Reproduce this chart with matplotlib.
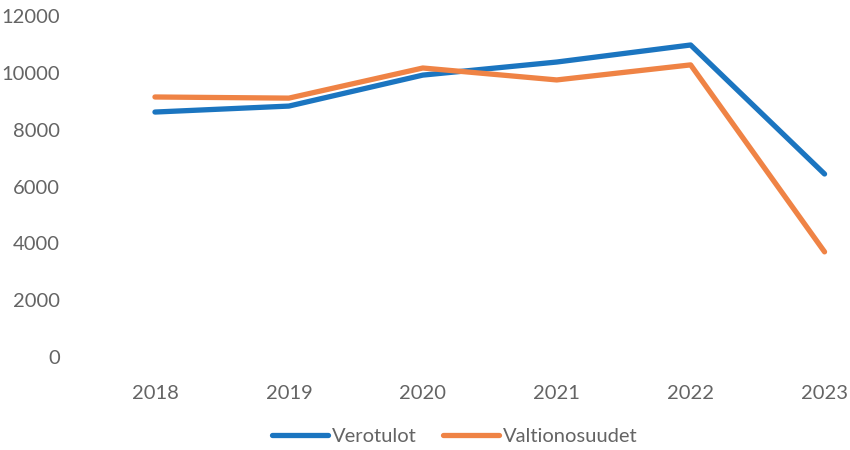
import matplotlib.pyplot as plt

# data
years = ["2018", "2019", "2020", "2021", "2022", "2023"]
verotulot = [8620, 8830, 9920, 10380, 10980, 6440]
valtionosuudet = [9150, 9110, 10170, 9750, 10280, 3700]
yticks = [0, 2000, 4000, 6000, 8000, 10000, 12000]

plt.rcParams['font.family'] = ['Lato', 'DejaVu Sans']
grey = '#646464'

fig = plt.figure(figsize=(8.5, 4.5), dpi=100, facecolor='white')
ax = fig.add_axes([88/850, 1-357/450, (850-88)/850, (357-16)/450])

x = range(len(years))
ax.plot(x, verotulot, color='#1b75c0', lw=3.8, solid_capstyle='round', label='Verotulot')
ax.plot(x, valtionosuudet, color='#ef8345', lw=3.8, solid_capstyle='round', label='Valtionosuudet')

ax.set_xlim(-0.5, 5.19)
ax.set_ylim(0, 12000)
ax.set_xticks(list(x))
ax.set_xticklabels(years)
ax.set_yticks(yticks)
ax.set_yticklabels([str(v) for v in yticks])
ax.tick_params(axis='both', length=0, labelsize=14.5, labelcolor=grey)
ax.tick_params(axis='y', pad=20)
ax.tick_params(axis='x', pad=20)
for s in ax.spines.values():
    s.set_visible(False)

fig.legend(loc='center', bbox_to_anchor=(0.535, 0.029), ncol=2, frameon=False,
           fontsize=14.5, labelcolor=grey, handlelength=2.8, handletextpad=0.2,
           columnspacing=1.3)

fig.savefig('out.png', dpi=100, facecolor='white')
